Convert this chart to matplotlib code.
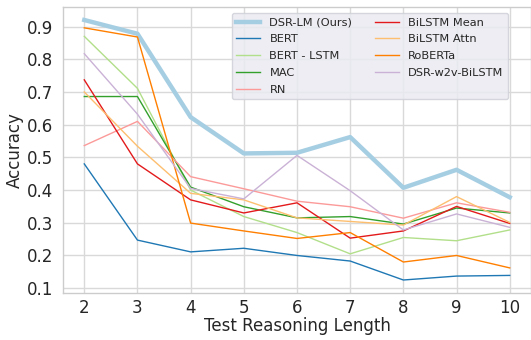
import matplotlib
matplotlib.use("Agg")
import matplotlib.pyplot as plt

lengths = [2, 3, 4, 5, 6, 7, 8, 9, 10]
dsr_lm = [0.920, 0.878, 0.623, 0.512, 0.514, 0.562, 0.407, 0.462, 0.378]
bert = [0.480, 0.247, 0.211, 0.222, 0.200, 0.183, 0.125, 0.137, 0.139]
bert_lstm = [0.870, 0.711, 0.400, 0.319, 0.270, 0.205, 0.255, 0.245, 0.278]
mac = [0.686, 0.686, 0.409, 0.349, 0.315, 0.319, 0.296, 0.345, 0.330]
rn = [0.536, 0.610, 0.441, 0.404, 0.366, 0.349, 0.314, 0.361, 0.332]
bilstm_mean = [0.737, 0.480, 0.370, 0.330, 0.361, 0.253, 0.275, 0.350, 0.298]
bilstm_attn = [0.700, 0.534, 0.390, 0.370, 0.315, 0.304, 0.293, 0.380, 0.301]
roberta = [0.896, 0.868, 0.299, 0.275, 0.252, 0.270, 0.180, 0.200, 0.162]
dsr_w2v = [0.817, 0.632, 0.405, 0.373, 0.506, 0.398, 0.278, 0.327, 0.286]

series = [
    ("DSR-LM (Ours)", dsr_lm, "#a6cee3", 3.2),
    ("BERT", bert, "#1f78b4", 1.0),
    ("BERT - LSTM", bert_lstm, "#b2df8a", 1.0),
    ("MAC", mac, "#33a02c", 1.0),
    ("RN", rn, "#fb9a99", 1.0),
    ("BiLSTM Mean", bilstm_mean, "#e31a1c", 1.0),
    ("BiLSTM Attn", bilstm_attn, "#fdbf6f", 1.0),
    ("RoBERTa", roberta, "#ff7f00", 1.0),
    ("DSR-w2v-BiLSTM", dsr_w2v, "#cab2d6", 1.0),
]

plt.rcParams['font.family'] = ['DejaVu Sans']
fig = plt.figure(figsize=(5.31, 3.40), dpi=100)
ax = fig.add_axes([63/531, 47/340, 468/531, 286/340])
for name, vals, col, lw in series:
    ax.plot(lengths, vals, color=col, lw=lw, label=name)

ax.set_xticks(lengths)
ax.set_yticks([0.1, 0.2, 0.3, 0.4, 0.5, 0.6, 0.7, 0.8, 0.9])
ax.grid(True, color="#d9d9d9", lw=1.0)
ax.set_axisbelow(True)
for s in ax.spines.values():
    s.set_color("#cccccc")
    s.set_linewidth(1.0)
ax.tick_params(axis="both", length=0, labelsize=12, colors="#262626", pad=7)
ax.tick_params(axis="x", pad=4.5)
ax.set_xlabel("Test Reasoning Length", fontsize=12, color="#262626", labelpad=-0.5)
ax.set_ylabel("Accuracy", fontsize=12, color="#262626", labelpad=2)
leg = ax.legend(ncol=2, fontsize=8.2, loc="upper right",
                bbox_to_anchor=((508-63)/468, (293-13)/286), borderaxespad=0,
                frameon=True, facecolor="#eaeaf2", edgecolor="#d0d0d8", framealpha=0.85,
                handlelength=2.1, handletextpad=0.8, columnspacing=2.0,
                labelspacing=0.6, borderpad=0.4)
for t in leg.get_texts():
    t.set_color("#262626")
fig.savefig("out.png", dpi=100)
